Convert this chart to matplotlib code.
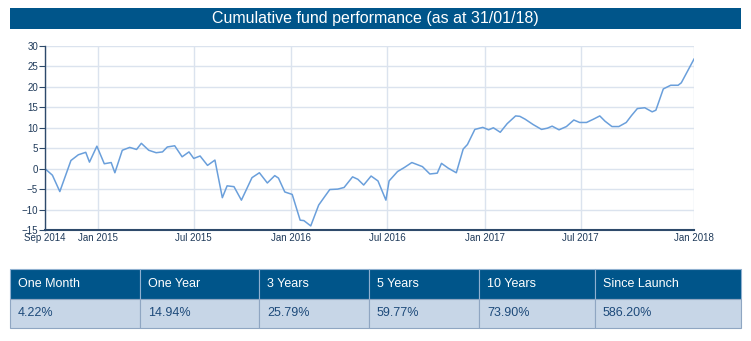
import matplotlib
matplotlib.use("Agg")
import matplotlib.pyplot as plt
import matplotlib.patches as patches
import pandas as pd

plt.rcParams['font.family'] = ['Liberation Sans', 'DejaVu Sans']

# fund performance series
dates = ["2014-09-23", "2014-10-07", "2014-10-21", "2014-11-11", "2014-11-25",
         "2014-12-09", "2014-12-16", "2014-12-30", "2015-01-13", "2015-01-26",
         "2015-02-02", "2015-02-16", "2015-03-02", "2015-03-15", "2015-03-24",
         "2015-04-07", "2015-04-21", "2015-05-03", "2015-05-12", "2015-05-26",
         "2015-06-09", "2015-06-22", "2015-07-01", "2015-07-13", "2015-07-27",
         "2015-08-10", "2015-08-24", "2015-09-02", "2015-09-15", "2015-09-29",
         "2015-10-19", "2015-11-02", "2015-11-17", "2015-12-01", "2015-12-08",
         "2015-12-20", "2016-01-03", "2016-01-18", "2016-01-25", "2016-02-07",
         "2016-02-22", "2016-03-04", "2016-03-14", "2016-03-29", "2016-04-10",
         "2016-04-26", "2016-05-06", "2016-05-17", "2016-05-31", "2016-06-13",
         "2016-06-28", "2016-07-04", "2016-07-20", "2016-08-02", "2016-08-16",
         "2016-08-26", "2016-09-05", "2016-09-19", "2016-10-03", "2016-10-11",
         "2016-10-24", "2016-11-08", "2016-11-21", "2016-11-29", "2016-12-13",
         "2016-12-28", "2017-01-08", "2017-01-17", "2017-01-30", "2017-02-12",
         "2017-02-28", "2017-03-08", "2017-03-18", "2017-04-02", "2017-04-18",
         "2017-04-29", "2017-05-08", "2017-05-21", "2017-06-04", "2017-06-18",
         "2017-06-29", "2017-07-12", "2017-07-25", "2017-08-06", "2017-08-16",
         "2017-08-29", "2017-09-11", "2017-09-25", "2017-10-05", "2017-10-16",
         "2017-10-30", "2017-11-13", "2017-11-20", "2017-12-04", "2017-12-18",
         "2018-01-01", "2018-01-07", "2018-01-31"]
perf = [0.0, -1.6, -5.6, 2.0, 3.4, 4.0, 1.6, 5.5, 1.2, 1.5,
        -1.0, 4.5, 5.2, 4.7, 6.2, 4.5, 3.9, 4.1, 5.3, 5.6,
        2.9, 4.1, 2.5, 3.1, 0.8, 2.1, -7.1, -4.2, -4.4, -7.7,
        -2.2, -1.0, -3.5, -1.7, -2.3, -5.7, -6.3, -12.6, -12.7, -14.0,
        -8.9, -6.9, -5.1, -5.0, -4.6, -2.0, -2.6, -4.0, -1.8, -3.0,
        -7.7, -3.0, -0.7, 0.3, 1.5, 1.0, 0.5, -1.3, -1.1, 1.3,
        0.1, -1.0, 4.8, 5.9, 9.6, 10.1, 9.5, 10.0, 8.9, 11.0,
        12.9, 12.8, 12.1, 10.8, 9.6, 9.9, 10.4, 9.5, 10.3, 11.9,
        11.3, 11.3, 12.1, 12.9, 11.6, 10.3, 10.3, 11.3, 13.0, 14.7,
        14.9, 13.9, 14.3, 19.5, 20.4, 20.4, 21.0, 26.8]

tick_dates = ["2014-09-23", "2015-01-01", "2015-07-01", "2016-01-01",
              "2016-07-01", "2017-01-01", "2017-07-01", "2018-01-31"]
tick_labels = ["Sep 2014", "Jan 2015", "Jul 2015", "Jan 2016",
               "Jul 2016", "Jan 2017", "Jul 2017", "Jan 2018"]

periods = ["One Month", "One Year", "3 Years", "5 Years", "10 Years", "Since Launch"]
returns = ["4.22%", "14.94%", "25.79%", "59.77%", "73.90%", "586.20%"]

title = "Cumulative fund performance (as at 31/01/18)"

navy = "#00558a"
axis_col = "#2e4a6b"
grid_col = "#dbe3ee"
line_col = "#6a9fdb"

W, H = 751, 341
fig = plt.figure(figsize=(W / 100, H / 100), dpi=100)
fig.patch.set_facecolor("white")

# overlay axes in pixel coords for title bar and table
bg = fig.add_axes([0, 0, 1, 1])
bg.set_xlim(0, W)
bg.set_ylim(H, 0)
bg.axis("off")

bg.add_patch(patches.Rectangle((10, 8), 731, 21, facecolor=navy, edgecolor="none"))
bg.text(375.5, 18.5, title, color="white", fontsize=11.5, ha="center", va="center")

# table
col_edges = [10, 140, 259, 369, 479, 595, 741]
hdr_top, hdr_bot, body_bot = 269, 299, 328
for i in range(len(periods)):
    x0, x1 = col_edges[i], col_edges[i + 1]
    bg.add_patch(patches.Rectangle((x0, hdr_top), x1 - x0, hdr_bot - hdr_top,
                                   facecolor=navy, edgecolor="#8fb0d0", linewidth=0.8))
    bg.add_patch(patches.Rectangle((x0, hdr_bot), x1 - x0, body_bot - hdr_bot,
                                   facecolor="#c7d6e7", edgecolor="#8fa6c2", linewidth=0.8))
    bg.text(x0 + 8, (hdr_top + hdr_bot) / 2, periods[i], color="white",
            fontsize=9, ha="left", va="center")
    bg.text(x0 + 8, (hdr_bot + body_bot) / 2, returns[i], color="#1d4a7a",
            fontsize=9, ha="left", va="center")

# line chart
left, right, top, bottom = 45, 694, 46, 230
ax = fig.add_axes([left / W, 1 - bottom / H, (right - left) / W, (bottom - top) / H])
x = pd.to_datetime(dates)
ax.plot(x, perf, color=line_col, linewidth=1.1)

ax.set_xlim(pd.Timestamp(dates[0]), pd.Timestamp(dates[-1]))
ax.set_ylim(-15, 30)
ax.set_yticks(range(-15, 31, 5))
ax.set_xticks(pd.to_datetime(tick_dates))
ax.set_xticklabels(tick_labels)
ax.grid(True, color=grid_col, linewidth=1.0)
ax.set_axisbelow(True)

for side in ["top", "right"]:
    ax.spines[side].set_visible(False)
ax.spines["left"].set_color(axis_col)
ax.spines["left"].set_linewidth(1.0)
ax.spines["bottom"].set_color(axis_col)
ax.spines["bottom"].set_linewidth(1.5)

ax.tick_params(axis="y", colors=axis_col, labelsize=7, length=4, width=0.8, pad=1)
ax.tick_params(axis="x", colors=axis_col, labelsize=7, length=0, pad=2)
for lbl in ax.get_xticklabels() + ax.get_yticklabels():
    lbl.set_color("#1f3a5a")

fig.savefig("out.png", dpi=100)
